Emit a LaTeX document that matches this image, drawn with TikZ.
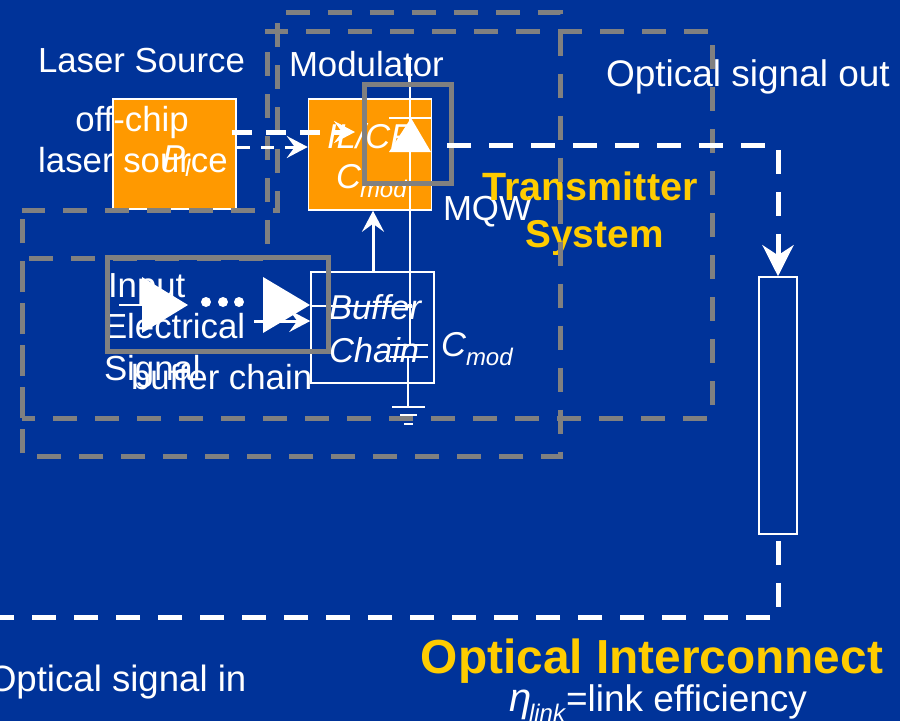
\documentclass[tikz,border=0pt]{standalone}
\usepackage{fontspec}
\setmainfont{Liberation Sans}
\usetikzlibrary{arrows.meta}
\definecolor{bgblue}{HTML}{003399}
\definecolor{boxorange}{HTML}{FF9900}
\definecolor{titleyellow}{HTML}{FFCC00}
\definecolor{framegray}{HTML}{808080}
\newcommand{\fs}[1]{\fontsize{#1}{#1}\selectfont}
\tikzset{
  x=1pt,y=-1pt,
  txt/.style={text=white,inner sep=0pt,outer sep=0pt,font=\fs{34.8}},
  ltxt/.style={txt,anchor=base west},
  ctxt/.style={txt,anchor=base},
  ital/.style={txt,anchor=base west,font=\fs{34.5}\itshape},
  sub/.style={txt,anchor=base west,font=\fs{24}\itshape},
  ytxt/.style={anchor=base,text=titleyellow,inner sep=0pt,font=\fs{39.5}\bfseries},
  orangebox/.style={draw=white,fill=boxorange,line width=1.5pt,inner sep=0pt},
  thinbox/.style={draw=white,line width=1.5pt,inner sep=0pt},
  wire/.style={draw=white,line width=1.5pt},
  grayframe/.style={draw=framegray,line width=5pt},
  graydash/.style={draw=framegray,line width=5pt,dash pattern=on 24pt off 18pt},
  optical/.style={draw=white,line width=5pt,dash pattern=on 24pt off 18pt},
  shortdash/.style={draw=white,line width=5pt,dash pattern=on 20pt off 14pt},
  thindash/.style={draw=white,line width=3pt,dash pattern=on 13pt off 11pt},
  elec/.style={draw=white,line width=3pt},
  tipbig/.style={-{Stealth[length=31pt,width=31pt,inset=10pt]}},
  tipsmall/.style={-{Stealth[length=21pt,width=22pt,inset=8pt]}},
  solidwhite/.style={fill=white,draw=none},
}
\begin{document}
\begin{tikzpicture}
\fill[bgblue] (0,0) rectangle (900,721);
\useasboundingbox (0,0) rectangle (900,721);
% coloured boxes
\node[orangebox,minimum width=123pt,minimum height=110pt] (laser) at (174.5,154) {};
\node[orangebox,minimum width=123pt,minimum height=111pt] (mod) at (370,154.5) {};
\node[thinbox,minimum width=123pt,minimum height=111pt] (buf) at (372.5,327.5) {};
\node[thinbox,minimum width=38pt,minimum height=257pt] (fiber) at (778,405.5) {};
% texts
\node[ltxt] (lsrc) at (38,72) {Laser Source};
\node[ctxt] (offchip) at (132,131) {off-chip};
\node[ctxt] (lasersrc) at (133,172) {laser source};
\node[ital] (pl) at (162,169) {P};
\node[sub] (plsub) at (185,176) {l};
\node[ltxt] (modt) at (289,76) {Modulator};
\node[ital] (ilcr) at (327,148) {IL/CR};
\node[ital] (cm) at (336,188) {C};
\node[sub] (cmsub) at (360,197) {mod};
\node[ltxt] (mqw) at (443,220) {MQW};
\node[ytxt] (tr1) at (590,200) {Transmitter};
\node[ytxt,font=\fs{38.8}\bfseries] (tr2) at (594.5,247) {System};
\node[ltxt,font=\fs{37}] (oout) at (606,86) {Optical signal out};
\node[ltxt] (in1) at (108,297) {Input};
\node[ltxt] (in2) at (104,338) {Electrical};
\node[ltxt] (in3) at (104,380) {Signal};
\node[ltxt] (bc) at (131,389) {buffer chain};
\node[ital] (bf1) at (329,319) {Buffer};
\node[ital] (bf2) at (329,362) {Chain};
\node[ital] (cm2) at (441,356) {C};
\node[sub] (cm2sub) at (466,365) {mod};
\node[ltxt,font=\fs{36.6}] (oin) at (-12,691.5) {Optical signal in};
\node[ytxt,font=\fs{47.8}\bfseries] (oi) at (652,673) {Optical Interconnect};
\node[ital,font=\fs{40}\itshape] (eta) at (509,711) {η};
\node[sub] (etasub) at (529,721) {link};
\node[ltxt,font=\fs{37}] (eff) at (566,711.5) {=link efficiency};
% modulator wiring
\coordinate (vtop) at (409,57);
\coordinate (vmid) at (409,85);
\coordinate (capt) at (410,345);
\coordinate (capb) at (408,357);
\coordinate (gnd) at (408,407);
\draw[draw=white,line width=3pt] (vtop) -- (vmid);
\draw[wire] (vmid -| capt) -- (capt);
\draw[wire] (capb) -- (gnd);
\draw[wire] (390,345) -- (428,345);
\draw[wire] (390,357) -- (428,357);
\draw[wire] (392,407) -- (425,407);
\draw[wire] (400,415) -- (417,415);
\draw[wire] (404,424) -- (413,424);
\fill[solidwhite] (411,118) -- (389,152) -- (431,152) -- cycle;
\draw[wire] (389,118) -- (431,118);
% buffers
\fill[solidwhite] (142,277) -- (188,305) -- (142,333) -- cycle;
\fill[solidwhite] (263,277) -- (310,305) -- (263,333) -- cycle;
\fill[solidwhite] (206,302) circle (5pt) (223,302) circle (5pt) (239,302) circle (5pt);
\draw[wire] (119,305) -- (142,305);
\draw[wire] (310,306) -- (410,306);
\fill[solidwhite] (410,306) circle (2.5pt);
% electrical arrows
\draw[elec,tipsmall] (254,321) -- (buf.west |- 0,321);
\draw[elec,tipsmall] (buf.north -| 373,0) -- (mod.south -| 373,0);
% gray frames
\draw[graydash,dash phase=1pt] (22,210) -- (277.5,210) -- (277.5,12.5) -- (560.5,12.5) -- (560.5,456) -- (22,456) -- cycle;
\draw[graydash,dash phase=35pt] (22,258) -- (267,258) -- (267,31) -- (712,31) -- (712,418) -- (22,418);
\draw[graydash] (22,418) -- (22,258);
\draw[grayframe] (107.5,257.5) rectangle (328.5,351.5);
\draw[grayframe] (364.5,84.5) rectangle (451.5,183.5);
% optical paths
\coordinate (o1) at (447,145);
\coordinate (ocorner) at (778,145);
\coordinate (o2) at (778,541);
\coordinate (ocorner2) at (778,617);
\coordinate (oleft) at (0,617);
\draw[optical,tipbig] (o1) -- (ocorner) -- (fiber.north);
\draw[optical] (o2) -- (ocorner2) -- (oleft);
\coordinate (lasera) at (232,132);
\coordinate (modin) at (355,132);
\draw[shortdash,tipsmall] (lasera) -- (modin);
\draw[thindash,tipsmall] (laser.east |- 0,147) -- (mod.west |- 0,147);
\end{tikzpicture}
\end{document}
